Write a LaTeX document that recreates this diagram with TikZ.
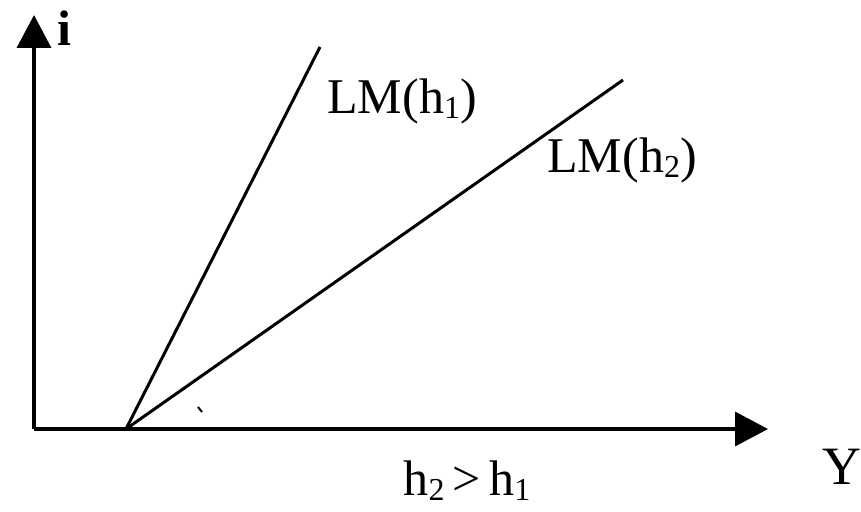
\documentclass[tikz,border=0pt]{standalone}
\usepackage{fontspec}
\setmainfont{Liberation Serif}
\usetikzlibrary{arrows.meta}
\newcommand{\mysub}[1]{\raisebox{-5pt}{\fontsize{32}{32}\selectfont #1}}
\begin{document}
\begin{tikzpicture}[x=1pt,y=-1pt,
  axis/.style={line width=3.5pt,-{Triangle[length=33pt,width=34pt]}},
  lmline/.style={line width=3pt},
  lbl/.style={inner sep=0pt,font=\fontsize{50}{60}\selectfont}]
\useasboundingbox (0,0) rectangle (861,511);
\coordinate (O) at (34,429);
\coordinate (itop) at (34,15);
\coordinate (yend) at (768,429);
\coordinate (P) at (126,429);
\coordinate (A) at (320,47);
\coordinate (B) at (623,80);
\draw[axis] (O) -- (itop);
\draw[axis] (O) -- (yend);
\draw[lmline] (P) -- (A);
\draw[lmline] (P) -- (B);
\draw[line width=2pt] (198,407) -- (202,412);
\node[lbl,font=\fontsize{50}{60}\selectfont\bfseries] (i) at (64,28) {i};
\node[lbl] (lm1) at (402,101) {LM(h\mysub{1})};
\node[lbl] (lm2) at (622,160) {LM(h\mysub{2})};
\node[lbl,font=\fontsize{54}{60}\selectfont] (Y) at (842,467) {Y};
\node[lbl] (h) at (467,481) {h\mysub{2}\,>\,h\mysub{1}};
\end{tikzpicture}
\end{document}
